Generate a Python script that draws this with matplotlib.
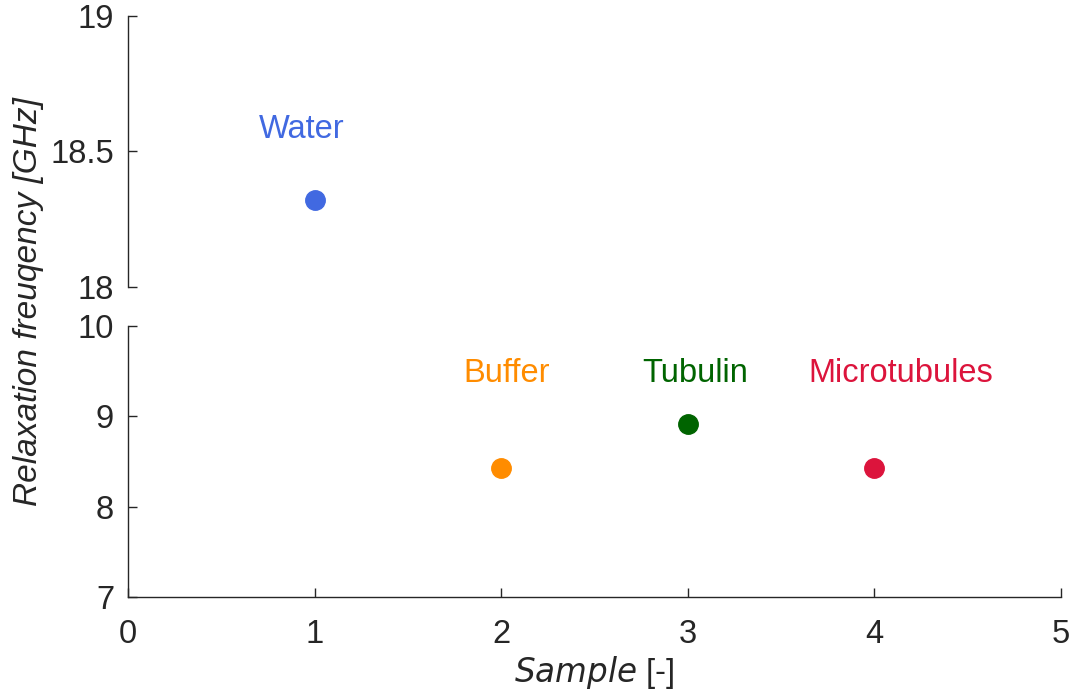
import matplotlib.pyplot as plt

plt.rcParams['font.family'] = ['Liberation Sans', 'DejaVu Sans']

samples = ['Water', 'Buffer', 'Tubulin', 'Microtubules']
sample_x = [1, 2, 3, 4]
freq = [18.32, 8.43, 8.92, 8.43]
colors = ['royalblue', 'darkorange', 'darkgreen', 'crimson']
label_x = [0.93, 2.03, 3.04, 4.14]
label_y = [18.58, 9.47, 9.47, 9.47]

axcol = '#262626'
fig = plt.figure(figsize=(10.77, 6.92), dpi=100)
ax_top = fig.add_axes([0.1188, 0.5853, 0.8664, 0.3916])
ax_bot = fig.add_axes([0.1188, 0.1373, 0.8664, 0.3916])

ax_top.set_ylim(18, 19)
ax_top.set_yticks([18, 18.5, 19])
ax_top.set_yticklabels(['18', '18.5', '19'])
ax_bot.set_ylim(7, 10)
ax_bot.set_yticks([7, 8, 9, 10])

for ax in (ax_top, ax_bot):
    ax.set_xlim(0, 5)
    ax.spines['top'].set_visible(False)
    ax.spines['right'].set_visible(False)
    for s in ('left', 'bottom'):
        ax.spines[s].set_color(axcol)
        ax.spines[s].set_linewidth(1.0)
    ax.tick_params(direction='in', length=6.5, width=1.0, color=axcol,
                   labelcolor=axcol, labelsize=23.5)
    ax.tick_params(axis='y', pad=10)
    ax.tick_params(axis='x', pad=16)
    for xi, yi, c, lx, ly, name in zip(sample_x, freq, colors, label_x, label_y, samples):
        lo, hi = ax.get_ylim()
        if lo <= yi <= hi:
            ax.plot(xi, yi, 'o', color=c, markersize=14, clip_on=False)
            ax.text(lx, ly, name, color=c, fontsize=23.5, ha='center', va='center')

ax_top.spines['bottom'].set_visible(False)
ax_top.tick_params(axis='x', bottom=False, labelbottom=False)
ax_bot.set_xticks([0, 1, 2, 3, 4, 5])

ax_bot.set_xlabel('$\\it{Sample}$ [-]', fontsize=23.5, color=axcol, labelpad=3)
fig.text(0.026, 0.5636, 'Relaxation freuqency [GHz]', rotation=90, style='italic',
         fontsize=24, color=axcol, ha='center', va='center')

fig.savefig('out.png', dpi=100)
